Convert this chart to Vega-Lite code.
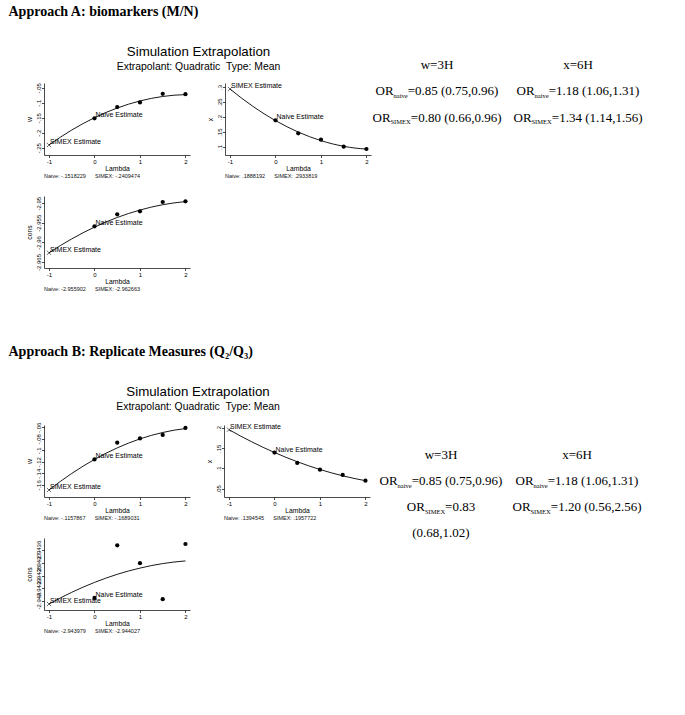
{
"$schema": "https://vega.github.io/schema/vega-lite/v6.json",
"background": "white",
"padding": {"left": 8, "top": 5, "right": 0, "bottom": 0},
"config": {
  "font": "Liberation Sans",
  "view": {"stroke": null},
  "axis": {"grid": false, "domainColor": "black", "tickColor": "black", "labelColor": "black", "titleColor": "black", "labelFont": "Liberation Sans", "titleFont": "Liberation Sans", "labelFontSize": 6, "titleFontSize": 6.8, "titleFontWeight": "normal", "tickSize": 2.5, "labelPadding": 0.5, "domainWidth": 0.7, "tickWidth": 0.7, "labelFlush": false, "labelOverlap": false},
  "axisX": {"titlePadding": 1.8, "labelExpr": "toString(datum.value)"},
  "axisY": {"labelAngle": -90, "labelAlign": "center", "labelBaseline": "bottom", "titlePadding": 3, "labelExpr": "abs(datum.value) < 1 ? (datum.value < 0 ? '-' : '') + slice(toString(abs(datum.value)), 1) : toString(datum.value)"}
},
"datasets": {
  "A1": [
    {"lam": -1, "est": -0.2409, "type": "fit"}, {"lam": -0.75, "est": -0.2149, "type": "fit"}, {"lam": -0.5, "est": -0.1911, "type": "fit"}, {"lam": -0.25, "est": -0.1695, "type": "fit"}, {"lam": 0, "est": -0.15, "type": "fit"}, {"lam": 0.25, "est": -0.1327, "type": "fit"}, {"lam": 0.5, "est": -0.1177, "type": "fit"}, {"lam": 0.75, "est": -0.1048, "type": "fit"}, {"lam": 1, "est": -0.0941, "type": "fit"}, {"lam": 1.25, "est": -0.0855, "type": "fit"}, {"lam": 1.5, "est": -0.0792, "type": "fit"}, {"lam": 1.75, "est": -0.075, "type": "fit"}, {"lam": 2, "est": -0.073, "type": "fit"},
    {"lam": 0, "est": -0.1518229, "type": "sim", "label": "Naive Estimate"}, {"lam": 0.5, "est": -0.1145, "type": "sim"}, {"lam": 1, "est": -0.099, "type": "sim"}, {"lam": 1.5, "est": -0.0705, "type": "sim"}, {"lam": 2, "est": -0.0715, "type": "sim"},
    {"lam": -1, "est": -0.2409474, "type": "simex", "label": "SIMEX Estimate"}
  ],
  "A2": [
    {"lam": -1, "est": 0.2934, "type": "fit"}, {"lam": -0.75, "est": 0.2634, "type": "fit"}, {"lam": -0.5, "est": 0.2359, "type": "fit"}, {"lam": -0.25, "est": 0.2107, "type": "fit"}, {"lam": 0, "est": 0.188, "type": "fit"}, {"lam": 0.25, "est": 0.1677, "type": "fit"}, {"lam": 0.5, "est": 0.1498, "type": "fit"}, {"lam": 0.75, "est": 0.1343, "type": "fit"}, {"lam": 1, "est": 0.1212, "type": "fit"}, {"lam": 1.25, "est": 0.1105, "type": "fit"}, {"lam": 1.5, "est": 0.1023, "type": "fit"}, {"lam": 1.75, "est": 0.0964, "type": "fit"}, {"lam": 2, "est": 0.093, "type": "fit"},
    {"lam": 0, "est": 0.1888192, "type": "sim", "label": "Naive Estimate"}, {"lam": 0.5, "est": 0.1457, "type": "sim"}, {"lam": 1, "est": 0.1243, "type": "sim"}, {"lam": 1.5, "est": 0.101, "type": "sim"}, {"lam": 2, "est": 0.0933, "type": "sim"},
    {"lam": -1, "est": 0.2933819, "type": "simex", "label": "SIMEX Estimate"}
  ],
  "A3": [
    {"lam": -1, "est": -2.96266, "type": "fit"}, {"lam": -0.75, "est": -2.96081, "type": "fit"}, {"lam": -0.5, "est": -2.95911, "type": "fit"}, {"lam": -0.25, "est": -2.95753, "type": "fit"}, {"lam": 0, "est": -2.9561, "type": "fit"}, {"lam": 0.25, "est": -2.95481, "type": "fit"}, {"lam": 0.5, "est": -2.95365, "type": "fit"}, {"lam": 0.75, "est": -2.95263, "type": "fit"}, {"lam": 1, "est": -2.95175, "type": "fit"}, {"lam": 1.25, "est": -2.951, "type": "fit"}, {"lam": 1.5, "est": -2.95039, "type": "fit"}, {"lam": 1.75, "est": -2.94993, "type": "fit"}, {"lam": 2, "est": -2.9496, "type": "fit"},
    {"lam": 0, "est": -2.955902, "type": "sim", "label": "Naive Estimate"}, {"lam": 0.5, "est": -2.95284, "type": "sim"}, {"lam": 1, "est": -2.95207, "type": "sim"}, {"lam": 1.5, "est": -2.9497, "type": "sim"}, {"lam": 2, "est": -2.94952, "type": "sim"},
    {"lam": -1, "est": -2.962663, "type": "simex", "label": "SIMEX Estimate"}
  ],
  "B1": [
    {"lam": -1, "est": -0.1689, "type": "fit"}, {"lam": -0.75, "est": -0.154, "type": "fit"}, {"lam": -0.5, "est": -0.1401, "type": "fit"}, {"lam": -0.25, "est": -0.1274, "type": "fit"}, {"lam": 0, "est": -0.1158, "type": "fit"}, {"lam": 0.25, "est": -0.1052, "type": "fit"}, {"lam": 0.5, "est": -0.0957, "type": "fit"}, {"lam": 0.75, "est": -0.0874, "type": "fit"}, {"lam": 1, "est": -0.0801, "type": "fit"}, {"lam": 1.25, "est": -0.074, "type": "fit"}, {"lam": 1.5, "est": -0.069, "type": "fit"}, {"lam": 1.75, "est": -0.065, "type": "fit"}, {"lam": 2, "est": -0.0622, "type": "fit"},
    {"lam": 0, "est": -0.1157867, "type": "sim", "label": "Naive Estimate"}, {"lam": 0.5, "est": -0.0867, "type": "sim"}, {"lam": 1, "est": -0.0794, "type": "sim"}, {"lam": 1.5, "est": -0.0733, "type": "sim"}, {"lam": 2, "est": -0.0611, "type": "sim"},
    {"lam": -1, "est": -0.1689031, "type": "simex", "label": "SIMEX Estimate"}
  ],
  "B2": [
    {"lam": -1, "est": 0.1958, "type": "fit"}, {"lam": -0.75, "est": 0.1804, "type": "fit"}, {"lam": -0.5, "est": 0.1659, "type": "fit"}, {"lam": -0.25, "est": 0.1522, "type": "fit"}, {"lam": 0, "est": 0.1395, "type": "fit"}, {"lam": 0.25, "est": 0.1277, "type": "fit"}, {"lam": 0.5, "est": 0.1167, "type": "fit"}, {"lam": 0.75, "est": 0.1067, "type": "fit"}, {"lam": 1, "est": 0.0975, "type": "fit"}, {"lam": 1.25, "est": 0.0893, "type": "fit"}, {"lam": 1.5, "est": 0.0819, "type": "fit"}, {"lam": 1.75, "est": 0.0755, "type": "fit"}, {"lam": 2, "est": 0.0699, "type": "fit"},
    {"lam": 0, "est": 0.1394545, "type": "sim", "label": "Naive Estimate"}, {"lam": 0.5, "est": 0.1136, "type": "sim"}, {"lam": 1, "est": 0.0971, "type": "sim"}, {"lam": 1.5, "est": 0.084, "type": "sim"}, {"lam": 2, "est": 0.0699, "type": "sim"},
    {"lam": -1, "est": 0.1957722, "type": "simex", "label": "SIMEX Estimate"}
  ],
  "B3": [
    {"lam": -1, "est": -2.944027, "type": "fit"}, {"lam": -0.75, "est": -2.9439786, "type": "fit"}, {"lam": -0.5, "est": -2.9439338, "type": "fit"}, {"lam": -0.25, "est": -2.9438926, "type": "fit"}, {"lam": 0, "est": -2.943855, "type": "fit"}, {"lam": 0.25, "est": -2.943821, "type": "fit"}, {"lam": 0.5, "est": -2.9437906, "type": "fit"}, {"lam": 0.75, "est": -2.9437638, "type": "fit"}, {"lam": 1, "est": -2.943741, "type": "fit"}, {"lam": 1.25, "est": -2.943721, "type": "fit"}, {"lam": 1.5, "est": -2.943705, "type": "fit"}, {"lam": 1.75, "est": -2.9436926, "type": "fit"}, {"lam": 2, "est": -2.9436838, "type": "fit"},
    {"lam": 0, "est": -2.943979, "type": "sim", "label": "Naive Estimate"}, {"lam": 0.5, "est": -2.943559, "type": "sim"}, {"lam": 1, "est": -2.943702, "type": "sim"}, {"lam": 1.5, "est": -2.943989, "type": "sim"}, {"lam": 2, "est": -2.943549, "type": "sim"},
    {"lam": -1, "est": -2.944027, "type": "simex", "label": "SIMEX Estimate"}
  ],
  "TA": [
    {"col": "w=3H", "line": 1, "kind": "plain", "rest": "w=3H"},
    {"col": "x=6H", "line": 1, "kind": "plain", "rest": "x=6H"},
    {"col": "w=3H", "line": 2, "kind": "naive", "base": "OR", "sub": "naive", "rest": "=0.85 (0.75,0.96)"},
    {"col": "x=6H", "line": 2, "kind": "naive", "base": "OR", "sub": "naive", "rest": "=1.18 (1.06,1.31)"},
    {"col": "w=3H", "line": 3, "kind": "simex", "base": "OR", "sub": "SIMEX", "rest": "=0.80 (0.66,0.96)"},
    {"col": "x=6H", "line": 3, "kind": "simex", "base": "OR", "sub": "SIMEX", "rest": "=1.34 (1.14,1.56)"}
  ],
  "TB": [
    {"col": "w=3H", "line": 1, "kind": "plain", "rest": "w=3H"},
    {"col": "x=6H", "line": 1, "kind": "plain", "rest": "x=6H"},
    {"col": "w=3H", "line": 2, "kind": "naive", "base": "OR", "sub": "naive", "rest": "=0.85 (0.75,0.96)"},
    {"col": "x=6H", "line": 2, "kind": "naive", "base": "OR", "sub": "naive", "rest": "=1.18 (1.06,1.31)"},
    {"col": "w=3H", "line": 3, "kind": "short", "base": "OR", "sub": "SIMEX", "rest": "=0.83"},
    {"col": "x=6H", "line": 3, "kind": "simex", "base": "OR", "sub": "SIMEX", "rest": "=1.20 (0.56,2.56)"},
    {"col": "w=3H", "line": 4, "kind": "plain", "rest": "(0.68,1.02)"}
  ]
},
"vconcat": [
  {
    "title": {"text": "Approach A: biomarkers (M/N)", "font": "Liberation Serif", "fontSize": 14, "fontWeight": "bold", "anchor": "start", "dx": -17.5, "offset": 26, "color": "black"},
    "spacing": 0,
    "hconcat": [
      {
        "title": {"text": "Simulation Extrapolation", "subtitle": "Extrapolant: Quadratic\u00a0\u00a0Type: Mean", "font": "Liberation Sans", "subtitleFont": "Liberation Sans", "fontSize": 13.3, "subtitleFontSize": 10.4, "fontWeight": "normal", "anchor": "middle", "offset": 10, "subtitlePadding": 3, "color": "black", "subtitleColor": "black"},
        "spacing": 16,
        "vconcat": [
          {
            "spacing": 16,
            "hconcat": [
              {
                "width": 146, "height": 72,
                "title": {"text": "Naive: -.1518229\u00a0\u00a0\u00a0\u00a0\u00a0\u00a0SIMEX: -.2409474", "orient": "bottom", "anchor": "start", "frame": "group", "fontSize": 5.5, "fontWeight": "normal", "offset": 1, "color": "#111111"},
                "data": {"name": "A1"},
                "encoding": {
                  "x": {"field": "lam", "type": "quantitative", "scale": {"domain": [-1.11, 2.1], "nice": false, "zero": false}, "axis": {"title": "Lambda", "values": [-1, 0, 1, 2]}},
                  "y": {"field": "est", "type": "quantitative", "scale": {"domain": [-0.2743, -0.0343], "nice": false, "zero": false}, "axis": {"title": "w", "values": [-0.25, -0.2, -0.15, -0.1, -0.05]}}
                },
                "layer": [
                  {"transform": [{"filter": "datum.type == 'fit'"}], "mark": {"type": "line", "color": "black", "strokeWidth": 0.9, "interpolate": "monotone"}},
                  {"transform": [{"filter": "datum.type == 'sim'"}], "mark": {"type": "circle", "color": "black", "size": 18, "opacity": 1}},
                  {"transform": [{"filter": "datum.type == 'simex'"}], "mark": {"type": "point", "shape": "M-1,-1L1,1M1,-1L-1,1", "color": "black", "size": 18, "strokeWidth": 0.8}},
                  {"transform": [{"filter": "isValid(datum.label)"}], "mark": {"type": "text", "align": "left", "baseline": "middle", "dx": 1, "dy": -3, "fontSize": 7, "fill": "black"}, "encoding": {"text": {"field": "label"}}}
                ]
              },
              {
                "width": 146, "height": 72,
                "title": {"text": "Naive: .1888192\u00a0\u00a0\u00a0\u00a0\u00a0\u00a0SIMEX: .2933819", "orient": "bottom", "anchor": "start", "frame": "group", "fontSize": 5.5, "fontWeight": "normal", "offset": 1, "color": "#111111"},
                "data": {"name": "A2"},
                "encoding": {
                  "x": {"field": "lam", "type": "quantitative", "scale": {"domain": [-1.11, 2.1], "nice": false, "zero": false}, "axis": {"title": "Lambda", "values": [-1, 0, 1, 2]}},
                  "y": {"field": "est", "type": "quantitative", "scale": {"domain": [0.0733, 0.3133], "nice": false, "zero": false}, "axis": {"title": "x", "values": [0.1, 0.15, 0.2, 0.25, 0.3]}}
                },
                "layer": [
                  {"transform": [{"filter": "datum.type == 'fit'"}], "mark": {"type": "line", "color": "black", "strokeWidth": 0.9, "interpolate": "monotone"}},
                  {"transform": [{"filter": "datum.type == 'sim'"}], "mark": {"type": "circle", "color": "black", "size": 18, "opacity": 1}},
                  {"transform": [{"filter": "datum.type == 'simex'"}], "mark": {"type": "point", "shape": "M-1,-1L1,1M1,-1L-1,1", "color": "black", "size": 18, "strokeWidth": 0.8}},
                  {"transform": [{"filter": "isValid(datum.label)"}], "mark": {"type": "text", "align": "left", "baseline": "middle", "dx": 1, "dy": -3, "fontSize": 7, "fill": "black"}, "encoding": {"text": {"field": "label"}}}
                ]
              }
            ]
          },
          {
            "width": 146, "height": 72,
            "title": {"text": "Naive: -2.955902\u00a0\u00a0\u00a0\u00a0\u00a0\u00a0SIMEX: -2.962663", "orient": "bottom", "anchor": "start", "frame": "group", "fontSize": 5.5, "fontWeight": "normal", "offset": 1, "color": "#111111"},
            "data": {"name": "A3"},
            "encoding": {
              "x": {"field": "lam", "type": "quantitative", "scale": {"domain": [-1.11, 2.1], "nice": false, "zero": false}, "axis": {"title": "Lambda", "values": [-1, 0, 1, 2]}},
              "y": {"field": "est", "type": "quantitative", "scale": {"domain": [-2.96653, -2.94817], "nice": false, "zero": false}, "axis": {"title": "cons", "values": [-2.965, -2.96, -2.955, -2.95]}}
            },
            "layer": [
              {"transform": [{"filter": "datum.type == 'fit'"}], "mark": {"type": "line", "color": "black", "strokeWidth": 0.9, "interpolate": "monotone"}},
              {"transform": [{"filter": "datum.type == 'sim'"}], "mark": {"type": "circle", "color": "black", "size": 18, "opacity": 1}},
              {"transform": [{"filter": "datum.type == 'simex'"}], "mark": {"type": "point", "shape": "M-1,-1L1,1M1,-1L-1,1", "color": "black", "size": 18, "strokeWidth": 0.8}},
              {"transform": [{"filter": "isValid(datum.label)"}], "mark": {"type": "text", "align": "left", "baseline": "middle", "dx": 1, "dy": -3, "fontSize": 7, "fill": "black"}, "encoding": {"text": {"field": "label"}}}
            ]
          }
        ]
      },
      {
        "width": 273, "height": 99,
        "data": {"name": "TA"},
        "encoding": {
          "x": {"field": "col", "type": "nominal", "scale": {"type": "point", "domain": ["w=3H", "x=6H"], "padding": 0.468}, "axis": null},
          "y": {"field": "line", "type": "quantitative", "scale": {"domain": [1.547, 5.283], "reverse": true, "nice": false, "zero": false}, "axis": null}
        },
        "layer": [
          {"transform": [{"filter": "datum.kind == 'plain'"}], "mark": {"type": "text", "font": "Liberation Serif", "fontSize": 13, "align": "center", "baseline": "alphabetic", "fill": "black"}, "encoding": {"text": {"field": "rest"}}},
          {"transform": [{"filter": "datum.kind == 'naive'"}], "mark": {"type": "text", "font": "Liberation Serif", "fontSize": 13, "align": "left", "baseline": "alphabetic", "dx": -61.4, "fill": "black"}, "encoding": {"text": {"field": "base"}}},
          {"transform": [{"filter": "datum.kind == 'naive'"}], "mark": {"type": "text", "font": "Liberation Serif", "fontSize": 6.5, "align": "left", "baseline": "alphabetic", "dx": -43.4, "dy": 2.5, "fill": "black"}, "encoding": {"text": {"field": "sub"}}},
          {"transform": [{"filter": "datum.kind == 'naive'"}], "mark": {"type": "text", "font": "Liberation Serif", "fontSize": 13, "align": "left", "baseline": "alphabetic", "dx": -29.3, "fill": "black"}, "encoding": {"text": {"field": "rest"}}},
          {"transform": [{"filter": "datum.kind == 'simex'"}], "mark": {"type": "text", "font": "Liberation Serif", "fontSize": 13, "align": "left", "baseline": "alphabetic", "dx": -64.5, "fill": "black"}, "encoding": {"text": {"field": "base"}}},
          {"transform": [{"filter": "datum.kind == 'simex'"}], "mark": {"type": "text", "font": "Liberation Serif", "fontSize": 6.5, "align": "left", "baseline": "alphabetic", "dx": -46.5, "dy": 2.5, "fill": "black"}, "encoding": {"text": {"field": "sub"}}},
          {"transform": [{"filter": "datum.kind == 'simex'"}], "mark": {"type": "text", "font": "Liberation Serif", "fontSize": 13, "align": "left", "baseline": "alphabetic", "dx": -26.2, "fill": "black"}, "encoding": {"text": {"field": "rest"}}}
        ]
      }
    ]
  },
  {
    "title": {"text": "Approach B: Replicate Measures (Q\u2082/Q\u2083)", "font": "Liberation Serif", "fontSize": 14, "fontWeight": "bold", "anchor": "start", "dx": -17.5, "offset": 26, "color": "black"},
    "spacing": 0,
    "hconcat": [
      {
        "title": {"text": "Simulation Extrapolation", "subtitle": "Extrapolant: Quadratic\u00a0\u00a0Type: Mean", "font": "Liberation Sans", "subtitleFont": "Liberation Sans", "fontSize": 13.3, "subtitleFontSize": 10.4, "fontWeight": "normal", "anchor": "middle", "offset": 10, "subtitlePadding": 3, "color": "black", "subtitleColor": "black"},
        "spacing": 16,
        "vconcat": [
          {
            "spacing": 16,
            "hconcat": [
              {
                "width": 146, "height": 72,
                "title": {"text": "Naive: -.1157867\u00a0\u00a0\u00a0\u00a0\u00a0\u00a0SIMEX: -.1689031", "orient": "bottom", "anchor": "start", "frame": "group", "fontSize": 5.5, "fontWeight": "normal", "offset": 1, "color": "#111111"},
                "data": {"name": "B1"},
                "encoding": {
                  "x": {"field": "lam", "type": "quantitative", "scale": {"domain": [-1.11, 2.1], "nice": false, "zero": false}, "axis": {"title": "Lambda", "values": [-1, 0, 1, 2]}},
                  "y": {"field": "est", "type": "quantitative", "scale": {"domain": [-0.181, -0.056], "nice": false, "zero": false}, "axis": {"title": "w", "values": [-0.16, -0.14, -0.12, -0.1, -0.08, -0.06]}}
                },
                "layer": [
                  {"transform": [{"filter": "datum.type == 'fit'"}], "mark": {"type": "line", "color": "black", "strokeWidth": 0.9, "interpolate": "monotone"}},
                  {"transform": [{"filter": "datum.type == 'sim'"}], "mark": {"type": "circle", "color": "black", "size": 18, "opacity": 1}},
                  {"transform": [{"filter": "datum.type == 'simex'"}], "mark": {"type": "point", "shape": "M-1,-1L1,1M1,-1L-1,1", "color": "black", "size": 18, "strokeWidth": 0.8}},
                  {"transform": [{"filter": "isValid(datum.label)"}], "mark": {"type": "text", "align": "left", "baseline": "middle", "dx": 1, "dy": -3, "fontSize": 7, "fill": "black"}, "encoding": {"text": {"field": "label"}}}
                ]
              },
              {
                "width": 146, "height": 72,
                "title": {"text": "Naive: .1394545\u00a0\u00a0\u00a0\u00a0\u00a0\u00a0SIMEX: .1957722", "orient": "bottom", "anchor": "start", "frame": "group", "fontSize": 5.5, "fontWeight": "normal", "offset": 1, "color": "#111111"},
                "data": {"name": "B2"},
                "encoding": {
                  "x": {"field": "lam", "type": "quantitative", "scale": {"domain": [-1.11, 2.1], "nice": false, "zero": false}, "axis": {"title": "Lambda", "values": [-1, 0, 1, 2]}},
                  "y": {"field": "est", "type": "quantitative", "scale": {"domain": [0.0296, 0.2074], "nice": false, "zero": false}, "axis": {"title": "x", "values": [0.05, 0.1, 0.15, 0.2]}}
                },
                "layer": [
                  {"transform": [{"filter": "datum.type == 'fit'"}], "mark": {"type": "line", "color": "black", "strokeWidth": 0.9, "interpolate": "monotone"}},
                  {"transform": [{"filter": "datum.type == 'sim'"}], "mark": {"type": "circle", "color": "black", "size": 18, "opacity": 1}},
                  {"transform": [{"filter": "datum.type == 'simex'"}], "mark": {"type": "point", "shape": "M-1,-1L1,1M1,-1L-1,1", "color": "black", "size": 18, "strokeWidth": 0.8}},
                  {"transform": [{"filter": "isValid(datum.label)"}], "mark": {"type": "text", "align": "left", "baseline": "middle", "dx": 1, "dy": -3, "fontSize": 7, "fill": "black"}, "encoding": {"text": {"field": "label"}}}
                ]
              }
            ]
          },
          {
            "width": 146, "height": 72,
            "title": {"text": "Naive: -2.943979\u00a0\u00a0\u00a0\u00a0\u00a0\u00a0SIMEX: -2.944027", "orient": "bottom", "anchor": "start", "frame": "group", "fontSize": 5.5, "fontWeight": "normal", "offset": 1, "color": "#111111"},
            "data": {"name": "B3"},
            "encoding": {
              "x": {"field": "lam", "type": "quantitative", "scale": {"domain": [-1.11, 2.1], "nice": false, "zero": false}, "axis": {"title": "Lambda", "values": [-1, 0, 1, 2]}},
              "y": {"field": "est", "type": "quantitative", "scale": {"domain": [-2.9440748, -2.9435012], "nice": false, "zero": false}, "axis": {"title": "cons", "values": [-2.944, -2.9439, -2.9438, -2.9437, -2.9436]}}
            },
            "layer": [
              {"transform": [{"filter": "datum.type == 'fit'"}], "mark": {"type": "line", "color": "black", "strokeWidth": 0.9, "interpolate": "monotone"}},
              {"transform": [{"filter": "datum.type == 'sim'"}], "mark": {"type": "circle", "color": "black", "size": 18, "opacity": 1}},
              {"transform": [{"filter": "datum.type == 'simex'"}], "mark": {"type": "point", "shape": "M-1,-1L1,1M1,-1L-1,1", "color": "black", "size": 18, "strokeWidth": 0.8}},
              {"transform": [{"filter": "isValid(datum.label)"}], "mark": {"type": "text", "align": "left", "baseline": "middle", "dx": 1, "dy": -3, "fontSize": 7, "fill": "black"}, "encoding": {"text": {"field": "label"}}}
            ]
          }
        ]
      },
      {
        "width": 278, "height": 224,
        "data": {"name": "TB"},
        "encoding": {
          "x": {"field": "col", "type": "nominal", "scale": {"type": "point", "domain": ["w=3H", "x=6H"], "padding": 0.522}, "axis": null},
          "y": {"field": "line", "type": "quantitative", "scale": {"domain": [-0.315, 8.3], "reverse": true, "nice": false, "zero": false}, "axis": null}
        },
        "layer": [
          {"transform": [{"filter": "datum.kind == 'plain'"}], "mark": {"type": "text", "font": "Liberation Serif", "fontSize": 13, "align": "center", "baseline": "alphabetic", "fill": "black"}, "encoding": {"text": {"field": "rest"}}},
          {"transform": [{"filter": "datum.kind == 'naive'"}], "mark": {"type": "text", "font": "Liberation Serif", "fontSize": 13, "align": "left", "baseline": "alphabetic", "dx": -61.4, "fill": "black"}, "encoding": {"text": {"field": "base"}}},
          {"transform": [{"filter": "datum.kind == 'naive'"}], "mark": {"type": "text", "font": "Liberation Serif", "fontSize": 6.5, "align": "left", "baseline": "alphabetic", "dx": -43.4, "dy": 2.5, "fill": "black"}, "encoding": {"text": {"field": "sub"}}},
          {"transform": [{"filter": "datum.kind == 'naive'"}], "mark": {"type": "text", "font": "Liberation Serif", "fontSize": 13, "align": "left", "baseline": "alphabetic", "dx": -29.3, "fill": "black"}, "encoding": {"text": {"field": "rest"}}},
          {"transform": [{"filter": "datum.kind == 'simex'"}], "mark": {"type": "text", "font": "Liberation Serif", "fontSize": 13, "align": "left", "baseline": "alphabetic", "dx": -64.5, "fill": "black"}, "encoding": {"text": {"field": "base"}}},
          {"transform": [{"filter": "datum.kind == 'simex'"}], "mark": {"type": "text", "font": "Liberation Serif", "fontSize": 6.5, "align": "left", "baseline": "alphabetic", "dx": -46.5, "dy": 2.5, "fill": "black"}, "encoding": {"text": {"field": "sub"}}},
          {"transform": [{"filter": "datum.kind == 'simex'"}], "mark": {"type": "text", "font": "Liberation Serif", "fontSize": 13, "align": "left", "baseline": "alphabetic", "dx": -26.2, "fill": "black"}, "encoding": {"text": {"field": "rest"}}},
          {"transform": [{"filter": "datum.kind == 'short'"}], "mark": {"type": "text", "font": "Liberation Serif", "fontSize": 13, "align": "left", "baseline": "alphabetic", "dx": -34.2, "fill": "black"}, "encoding": {"text": {"field": "base"}}},
          {"transform": [{"filter": "datum.kind == 'short'"}], "mark": {"type": "text", "font": "Liberation Serif", "fontSize": 6.5, "align": "left", "baseline": "alphabetic", "dx": -16.1, "dy": 2.5, "fill": "black"}, "encoding": {"text": {"field": "sub"}}},
          {"transform": [{"filter": "datum.kind == 'short'"}], "mark": {"type": "text", "font": "Liberation Serif", "fontSize": 13, "align": "left", "baseline": "alphabetic", "dx": 4.1, "fill": "black"}, "encoding": {"text": {"field": "rest"}}}
        ]
      }
    ]
  }
],
"spacing": 52
}
